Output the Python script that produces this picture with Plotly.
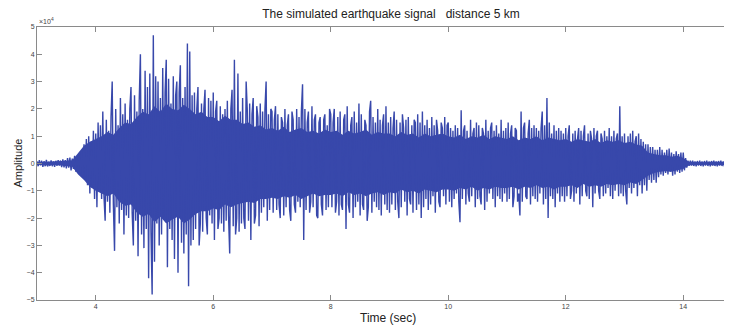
import plotly.graph_objects as go

# Sampling grid of the read-off signal (seconds)
t_start = 3.0
t_step = 0.02

# Amplitude samples, in units of 1e4 (one row = 0.5 s)
amplitude_x1e4 = [
    # 3.00
    0.08, -0.1, 0.12, -0.07, 0.1, -0.12, 0.09, -0.1, 0.13, -0.11, 0.07, -0.09, 0.11,
    -0.1, 0.08, -0.12, 0.1, -0.09, 0.12, -0.08, 0.11, -0.13, 0.15, -0.14, 0.12,
    # 3.50
    -0.18, 0.2, -0.15, 0.22, -0.25, 0.18, -0.2, 0.28, -0.3, 0.25, -0.22, 0.3, -0.35,
    0.45, -0.5, 0.7, -0.6, 0.9, -0.8, 1.0, -1.1, 0.8, -0.9, 1.2, -1.3,
    # 4.00
    1.1, -1.6, 1.5, -1.0, 1.4, -1.3, 1.9, -1.2, -2.1, 1.6, -1.4, 1.2, -1.8,
    1.7, 3.0, -1.5, -3.2, 2.0, -1.6, 1.4, -2.2, 2.4, -1.7, 1.8, -2.6,
    # 4.50
    2.2, -1.9, 1.6, -2.0, 2.0, 2.8, -1.8, -3.0, 2.5, -2.1, 1.9, -3.4, 2.3,
    4.0, -2.6, 2.0, -3.1, 3.4, -2.4, 2.8, -4.2, 3.3, -2.5, -4.8, 4.7,
    # 5.00
    -3.6, 3.2, -2.2, 3.0, -3.0, 2.4, -2.6, 3.5, -2.0, 2.6, 3.8, -3.8, 3.1,
    -2.4, 2.2, -2.8, 3.2, -3.5, 2.5, 3.0, -4.0, 2.6, 3.6, -2.9, 2.4,
    # 5.50
    -3.3, 2.8, -2.6, 4.4, -4.5, 4.1, -3.0, 2.5, -2.8, 2.6, -2.4, 2.0, 2.8,
    -3.0, -2.2, 2.2, -2.5, 2.0, 2.7, -2.0, -2.6, 2.4, -1.9, 2.3, -2.2,
    # 6.00
    2.6, -2.8, 1.9, 2.3, -2.4, -2.0, 2.1, -2.2, 1.8, -2.5, 2.0, -2.1, 2.3,
    -1.9, -3.3, 2.0, 2.7, -2.3, 3.8, -2.6, -2.0, 3.3, -2.5, 1.9, -2.2,
    # 6.50
    2.4, -2.0, -2.4, 3.0, 1.9, -2.1, 2.2, -2.8, 1.8, 2.4, -2.2, -1.9, 2.1,
    1.7, -2.3, 2.2, -1.8, 1.9, -1.6, 2.0, 3.0, -2.1, 1.8, -1.7, 2.0,
    # 7.00
    1.9, -1.8, 1.6, 2.1, -1.7, 1.8, -1.5, -2.0, 1.7, 1.5, -1.9, 2.0, -1.6,
    1.4, 1.8, -1.7, -2.1, 1.9, 1.6, -1.5, -1.8, 2.0, -1.4, 1.7, -1.6,
    # 7.50
    1.9, 2.9, -2.8, 2.0, -1.7, 1.5, 1.9, -1.8, -1.4, 2.1, -1.6, 1.6, 1.8,
    -1.9, -2.0, 1.5, 1.7, -1.5, -1.9, 1.6, 1.8, -1.7, 1.4, -1.6, 2.0,
    # 8.00
    1.8, -1.6, 1.5, 2.0, -1.8, -1.4, 1.7, -1.9, 1.9, -1.5, -1.7, 1.6, 1.8,
    -2.4, 2.1, -1.5, -1.8, 1.4, 1.7, -2.0, 1.9, -1.6, 1.5, -1.4, 2.2,
    # 8.50
    -1.9, 1.8, -1.5, -1.7, 1.6, 1.4, -2.1, -1.6, 1.9, 2.3, -1.8, 1.7, -1.4,
    1.5, -1.6, 2.0, -1.7, 1.6, -1.9, 1.4, 1.8, -1.5, 2.1, -1.7, 1.5,
    # 9.00
    -1.8, 1.7, -1.5, 1.3, 1.9, -1.7, 1.6, -1.4, -2.0, 1.5, -1.6, 1.8, 1.3,
    -1.4, 1.6, -1.9, 1.7, -1.3, -1.5, 1.4, -1.8, 1.6, 1.5, -1.7, 1.8,
    # 9.50
    -1.5, 1.5, -2.0, 1.9, -1.6, 1.4, -1.3, 1.6, -1.7, 1.3, -1.5, 1.7, -1.2,
    1.4, -1.8, 1.6, 1.2, -1.4, -1.6, 1.5, 1.3, -1.2, 1.7, -1.5, 1.4,
    # 10.00
    1.5, -1.4, 1.3, -1.6, 1.2, -1.3, 1.4, -1.1, 1.3, -1.4, -2.15, 1.95, -1.3,
    1.2, 1.4, -1.5, 1.2, -1.1, -1.4, 1.6, -1.2, 1.1, 1.3, -1.6, 1.5,
    # 10.50
    -1.3, 1.4, -1.2, -1.5, 1.3, 1.1, -1.7, 1.6, -1.4, 1.2, -1.1, 1.3, 1.5,
    -1.3, 1.2, -1.6, 1.4, -1.2, 1.1, -1.3, 1.6, -1.4, 1.2, -1.1, 1.3,
    # 11.00
    -1.4, 1.5, -1.3, 1.1, 1.4, -1.6, -1.2, 1.3, 1.2, -1.4, -1.1, -1.9, 1.9,
    -1.4, 1.3, 1.5, -1.2, -1.3, 1.1, 1.6, -1.5, 1.3, -1.2, 1.4, -1.3,
    # 11.50
    1.3, -1.4, 1.2, -1.1, 1.3, 1.9, -1.5, 1.4, -1.3, 2.4, -2.0, 1.5, -1.2,
    1.1, -1.3, 1.4, -1.6, 1.2, -1.1, 1.3, -1.4, 1.2, -1.2, 1.1, -1.4,
    # 12.00
    1.3, -1.2, 1.0, 1.4, -1.3, -1.0, 1.1, -1.4, 1.2, -1.1, 0.9, 1.3, -1.5,
    1.2, -1.2, 1.0, 1.4, -1.0, -1.2, 1.1, -1.3, 1.2, 0.9, -1.6, 1.3,
    # 12.50
    -1.1, 1.0, 1.2, -1.0, -1.3, 1.1, 0.9, -1.2, 1.2, -1.1, 1.0, -0.9, 1.3,
    -1.2, 1.0, -1.3, 1.2, -1.0, 0.9, 1.1, -1.2, 2.1, -1.1, 1.0, -1.2,
    # 13.00
    1.1, -1.0, -1.5, 1.0, -0.9, 1.1, -1.1, 1.2, -0.9, 0.8, 1.0, -1.2, 1.1,
    -0.8, 0.9, -1.1, 0.8, -0.8, 0.7, -1.0, 0.7, -0.6, 0.6, -0.7, 0.6,
    # 13.50
    -0.6, 0.5, -0.7, 0.5, -0.5, 0.6, -0.4, 0.5, -0.45, 0.4, -0.35, 0.5, -0.4,
    0.55, -0.3, 0.4, -0.45, 0.35, -0.4, 0.45, -0.3, 0.35, -0.35, 0.4, -0.3,
    # 14.00
    0.4, -0.25, 0.2, -0.15, 0.1, -0.09, 0.1, -0.08, 0.1, -0.09, 0.08, -0.1, 0.09,
    -0.08, 0.1, -0.09, 0.08, -0.1, 0.09, -0.08, 0.1, -0.09, 0.08, -0.1, 0.09,
    # 14.50
    -0.08, 0.1, -0.09, 0.08, -0.1, 0.09, -0.08, 0.1, -0.09, 0.08, -0.1, 0.09,
    -0.08, 0.1, -0.09, 0.08, -0.1, 0.09,
]

time_sec = [round(t_start + t_step * i, 2) for i in range(len(amplitude_x1e4))]

# Dense (solid) core of the trace, read every 0.1 s from the picture, units of 1e4
core_start = 3.0
core_step = 0.1
core_hi = [
    0.05, 0.06, 0.05, 0.07, 0.08, 0.1,
    0.12, 0.4, 0.65, 0.8,
    0.9, 1.0, 1.15, 1.05, 1.3, 1.5, 1.45, 1.7, 1.9, 1.8,
    2.1, 1.9, 2.2, 2.0, 1.95, 2.15, 2.0, 1.8, 1.9, 1.7,
    1.7, 1.55, 1.75, 1.6, 1.6, 1.45, 1.5, 1.35, 1.4, 1.25,
    1.3, 1.2, 1.35, 1.15, 1.25, 1.3, 1.15, 1.2, 1.1, 1.25,
    1.15, 1.2, 1.05, 1.2, 1.1, 1.15, 1.25, 1.05, 1.15, 1.1,
    1.1, 1.0, 1.15, 1.05, 1.1, 0.95, 1.1, 1.0, 1.05, 1.1,
    1.0, 0.95, 1.05, 0.9, 1.0, 0.95, 1.05, 0.9, 1.0, 0.95,
    0.9, 1.0, 0.85, 0.95, 0.9, 1.0, 0.85, 0.95, 0.9, 0.85,
    0.9, 0.8, 0.9, 0.85, 0.8, 0.9, 0.75, 0.85, 0.8, 0.85,
    0.75, 0.8, 0.7, 0.65, 0.4, 0.35, 0.3, 0.3, 0.25, 0.28,
    0.2, 0.06, 0.05, 0.06, 0.05, 0.06, 0.05, 0.06, 0.05,
]
core_lo = [
    -0.05, -0.06, -0.07, -0.05, -0.08, -0.1,
    -0.12, -0.4, -0.6, -0.85,
    -1.0, -1.1, -1.2, -1.1, -1.4, -1.55, -1.5, -1.8, -1.95, -1.85,
    -2.15, -1.95, -2.2, -2.05, -1.95, -2.2, -2.05, -1.85, -1.75, -1.75,
    -1.65, -1.7, -1.5, -1.6, -1.5, -1.45, -1.4, -1.45, -1.3, -1.3,
    -1.25, -1.3, -1.2, -1.25, -1.15, -1.3, -1.2, -1.1, -1.2, -1.15,
    -1.15, -1.1, -1.2, -1.05, -1.15, -1.1, -1.2, -1.1, -1.05, -1.15,
    -1.05, -1.1, -0.95, -1.05, -1.0, -1.1, -0.95, -1.0, -1.05, -0.95,
    -0.95, -1.0, -0.9, -0.95, -0.85, -1.0, -0.9, -0.95, -0.85, -0.9,
    -0.9, -0.85, -0.95, -0.85, -0.9, -0.8, -0.9, -0.85, -0.95, -0.85,
    -0.85, -0.8, -0.9, -0.75, -0.85, -0.8, -0.85, -0.75, -0.8, -0.75,
    -0.8, -0.7, -0.75, -0.6, -0.45, -0.35, -0.3, -0.28, -0.3, -0.25,
    -0.2, -0.06, -0.05, -0.06, -0.05, -0.06, -0.05, -0.06, -0.05,
]
core_t = [round(core_start + core_step * i, 2) for i in range(len(core_hi))]

y_ticks = [-5, -4, -3, -2, -1, 0, 1, 2, 3, 4, 5]
x_ticks = [4, 6, 8, 10, 12, 14]

blue = "#3848ab"
axis_col = "#8a8a8a"
font_fam = "Liberation Sans, Arial, sans-serif"
tick_font = dict(family=font_fam, size=7, color="#444")

fig = go.Figure()
fig.add_trace(go.Scatter(x=core_t, y=core_lo, mode="lines",
                         line=dict(width=0, color=blue), hoverinfo="skip",
                         showlegend=False))
fig.add_trace(go.Scatter(x=core_t, y=core_hi, mode="lines", fill="tonexty",
                         fillcolor=blue, line=dict(width=0, color=blue),
                         hoverinfo="skip", showlegend=False))
fig.add_trace(go.Scatter(x=time_sec, y=amplitude_x1e4, mode="lines",
                         line=dict(width=1.4, color=blue, simplify=False),
                         showlegend=False))

# page body has an 8px margin, so the figure is 8px smaller on each axis
W, H = 724, 318
fig.update_layout(
    width=W, height=H,
    margin=dict(l=29, r=0, t=19, b=26),
    paper_bgcolor="white", plot_bgcolor="white",
    title=dict(text="The simulated earthquake signal   distance 5 km",
               x=383 / W, xanchor="center", y=1 - 6 / H, yanchor="middle",
               font=dict(family=font_fam, size=12, color="#222")),
    xaxis=dict(range=[3, 14.83], tickvals=x_ticks, ticks="inside", ticklen=5,
               tickcolor=axis_col, showline=True, linecolor=axis_col,
               linewidth=1, mirror="ticks", showgrid=False, zeroline=False,
               tickfont=tick_font),
    yaxis=dict(range=[-5, 5], tickvals=y_ticks, ticks="inside", ticklen=5,
               tickcolor=axis_col, showline=True, linecolor=axis_col,
               linewidth=1, showgrid=False, zeroline=False,
               tickfont=tick_font),
    annotations=[
        dict(text="Time (sec)", x=(388 - 37) / 695, y=-18 / 273, xref="paper",
             yref="paper", showarrow=False, xanchor="center", yanchor="middle",
             font=dict(family=font_fam, size=12, color="#222")),
        dict(text="Amplitude", x=-20 / 695, y=0.5, xref="paper", yref="paper",
             showarrow=False, textangle=-90, xanchor="center",
             yanchor="middle",
             font=dict(family=font_fam, size=11, color="#222")),
        dict(text="×10<sup>4</sup>", x=0, y=1, xref="paper", yref="paper",
             showarrow=False, xanchor="left", yanchor="bottom",
             font=dict(family=font_fam, size=7, color="#444")),
    ],
)

fig.write_html("out.html")
